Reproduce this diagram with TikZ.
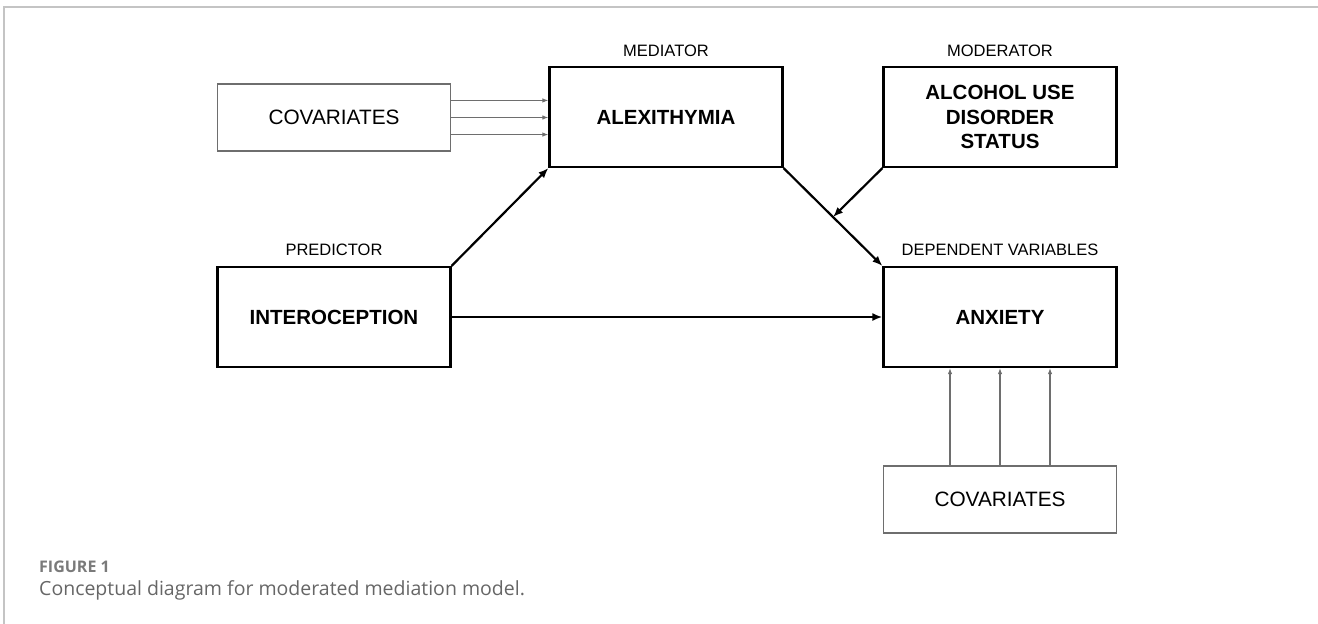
\documentclass[tikz,border=0pt]{standalone}
\usepackage{fontspec}
\setmainfont{Liberation Sans}
\newfontfamily\capfont{Open Sans}
\usetikzlibrary{arrows.meta,calc}
\definecolor{framegray}{HTML}{C4C4C4}
\definecolor{thingray}{HTML}{6E6E6E}
\definecolor{capgray}{HTML}{666666}
\definecolor{figgray}{HTML}{7A7A7A}
\tikzset{
  mainbox/.style={draw=black, line width=2.2pt, rectangle, minimum width=233pt, minimum height=100pt, inner sep=0pt, align=center, font=\bfseries\fontsize{20.5}{24.5}\selectfont},
  covbox/.style={draw=thingray, line width=1.2pt, rectangle, minimum width=233pt, minimum height=67pt, inner sep=0pt, font=\fontsize{20.8}{24.5}\selectfont},
  rolelabel/.style={inner sep=0pt, font=\fontsize{16.5}{19}\selectfont},
  mainarrow/.style={line width=2.2pt, -{Latex[length=10pt,width=8pt]}},
  thinarrow/.style={draw=thingray, line width=1.1pt, -{Latex[length=6pt,width=4.5pt]}, color=thingray},
}
\begin{document}
\begin{tikzpicture}[x=1pt,y=-1pt]
\useasboundingbox (0,0) rectangle (1318,624);
% frame
\draw[framegray, line width=1.5pt] (1318,7) -- (4,7) -- (4,624);

% nodes
\node[covbox] (cov1) at (334,117.5) {COVARIATES};
\node[mainbox] (alex) at (666,117) {ALEXITHYMIA};
\node[mainbox] (mod) at (1000,117) {ALCOHOL USE\\DISORDER\\STATUS};
\node[mainbox] (intero) at (334,317) {INTEROCEPTION};
\node[mainbox] (anx) at (1000,317) {ANXIETY};
\node[covbox] (cov2) at (1000,499.5) {COVARIATES};

\node[rolelabel] (lmed) at (666,51) {MEDIATOR};
\node[rolelabel] (lmod) at (1000,51) {MODERATOR};
\node[rolelabel] (lpred) at (334,250) {PREDICTOR};
\node[rolelabel] (ldep) at (1000,250) {DEPENDENT VARIABLES};

% main arrows
\draw[mainarrow] (intero.north east) -- (alex.south west);
\draw[mainarrow] (alex.south east) -- (anx.north west);
\coordinate (mid) at ($(alex.south east)!0.5!(anx.north west)$);
\draw[mainarrow] (mod.south west) -- (mid);
\draw[mainarrow] (intero.east) -- (anx.west);

% covariate arrows (left)
\foreach \f in {0.25,0.5,0.75}{
  \coordinate (c1s) at ($(cov1.north east)!\f!(cov1.south east)$);
  \draw[thinarrow] (c1s) -- (c1s -| alex.west);
}
% covariate arrows (bottom)
\foreach \dx in {-50,0,50}{
  \draw[thinarrow] ([xshift=\dx pt]cov2.north) -- ([xshift=\dx pt]anx.south);
}

% caption
\node[anchor=west, inner sep=0pt, text=figgray, font=\capfont\bfseries\fontsize{16}{19}\selectfont] (figlab) at (39,567) {FIGURE 1};
\node[anchor=west, inner sep=0pt, text=capgray, font=\capfont\fontsize{19.5}{23}\selectfont] (caption) at (39,590) {Conceptual diagram for moderated mediation model.};
\end{tikzpicture}
\end{document}
